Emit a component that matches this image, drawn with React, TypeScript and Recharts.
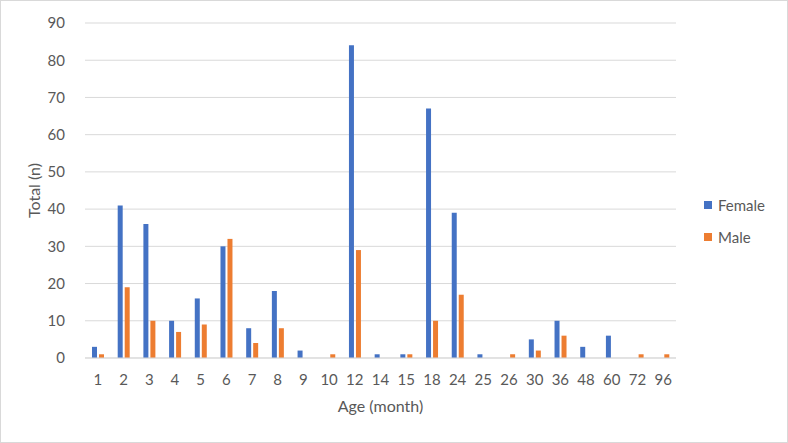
import React from "react";
import { BarChart, Bar, XAxis, YAxis, CartesianGrid, Legend } from "recharts";

const ages = ["1","2","3","4","5","6","7","8","9","10","12","14","15","18","24","25","26","30","36","48","60","72","96"];
const female = [3,41,36,10,16,30,8,18,2,0,84,1,1,67,39,1,0,5,10,3,6,0,0];
const male = [1,19,10,7,9,32,4,8,0,1,29,0,1,10,17,0,1,2,6,0,0,1,1];
const yTicks = [0,10,20,30,40,50,60,70,80,90];

const data = ages.map((a, i) => ({ age: a, Female: female[i], Male: male[i] }));

const FONT = "Lato, 'Open Sans', 'Liberation Sans', sans-serif";
const TXT = "#595959";

const renderLegend = (props: any) => {
  const { payload } = props;
  return (
    <div style={{ fontFamily: FONT, fontSize: 15, color: TXT, paddingLeft: 28 }}>
      {payload.map((p: any) => (
        <div key={p.value} style={{ display: "flex", alignItems: "center", height: 32 }}>
          <span style={{ display: "inline-block", width: 8, height: 8, background: p.color, marginRight: 6 }} />
          <span>{p.value}</span>
        </div>
      ))}
    </div>
  );
};

export default function App() {
  return (
    <div style={{ position: "absolute", left: 0, top: 0, width: 786, height: 441, border: "1px solid #d9d9d9", background: "#fff" }}>
      <div style={{ position: "absolute", left: -1, top: -1 }}>
        <BarChart
          width={788}
          height={443}
          data={data}
          margin={{ top: 23, right: 22, left: 0, bottom: 25 }}
          barGap={2}
        >
          <CartesianGrid vertical={false} stroke="#d9d9d9" />
          <XAxis
            dataKey="age"
            height={60}
            tickLine={false}
            axisLine={{ stroke: "#d9d9d9" }}
            tick={{ fill: TXT, fontSize: 15, fontFamily: FONT }}
            tickMargin={10}
            interval={0}
            label={{ value: "Age (month)", position: "insideBottom", offset: 6, fill: TXT, fontSize: 16, fontFamily: FONT }}
          />
          <YAxis
            width={85}
            domain={[0, 90]}
            ticks={yTicks}
            tickLine={false}
            axisLine={false}
            tick={{ fill: TXT, fontSize: 15, fontFamily: FONT }}
            tickMargin={14}
            label={{ value: "Total (n)", angle: -90, position: "insideLeft", offset: 34, fill: TXT, fontSize: 16, fontFamily: FONT, style: { textAnchor: "middle" } }}
          />
          <Legend
            layout="vertical"
            align="right"
            verticalAlign="top"
            content={renderLegend}
            wrapperStyle={{ left: 676, top: 189, width: 90 }}
          />
          <Bar dataKey="Female" fill="#4472C4" barSize={5} isAnimationActive={false} />
          <Bar dataKey="Male" fill="#ED7D31" barSize={5} isAnimationActive={false} />
        </BarChart>
      </div>
    </div>
  );
}
